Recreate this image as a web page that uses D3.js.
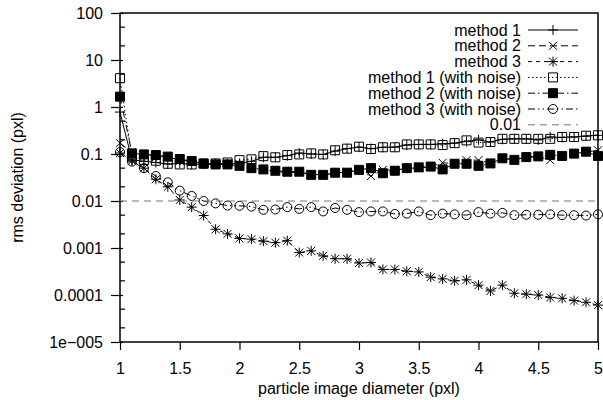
<!DOCTYPE html>
<html>
<head>
<meta charset="utf-8">
<script src="https://cdn.jsdelivr.net/npm/d3@7"></script>
<style>
  body { margin: 0; background: #fff; }
  svg text { font-family: "Liberation Sans", Arial, sans-serif; font-size: 16px; fill: #000; }
</style>
</head>
<body>
<div id="chart"></div>
<script>
// data
const diameters = [1.0, 1.1, 1.2, 1.3, 1.4, 1.5, 1.6, 1.7, 1.8, 1.9, 2.0, 2.1, 2.2, 2.3, 2.4, 2.5, 2.6, 2.7, 2.8, 2.9,
  3.0, 3.1, 3.2, 3.3, 3.4, 3.5, 3.6, 3.7, 3.8, 3.9, 4.0, 4.1, 4.2, 4.3, 4.4, 4.5, 4.6, 4.7, 4.8, 4.9, 5.0];

const method1 = [0.78, 0.075, 0.07, 0.066, 0.061, 0.063, 0.06, 0.061, 0.062, 0.062, 0.063, 0.07, 0.085, 0.085, 0.092,
  0.105, 0.1, 0.098, 0.115, 0.13, 0.14, 0.13, 0.139, 0.14, 0.155, 0.16, 0.16, 0.165, 0.17, 0.185,
  0.2, 0.18, 0.205, 0.21, 0.21, 0.2, 0.23, 0.225, 0.23, 0.24, 0.25];
const method2 = [0.17, 0.11, 0.095, 0.09, 0.085, 0.075, 0.07, 0.062, 0.06, 0.06, 0.055, 0.05, 0.047, 0.043, 0.04,
  0.041, 0.037, 0.036, 0.039, 0.042, 0.046, 0.034, 0.046, 0.045, 0.05, 0.05, 0.054, 0.065, 0.062, 0.074,
  0.074, 0.063, 0.08, 0.076, 0.085, 0.088, 0.074, 0.092, 0.1, 0.11, 0.12];
const method3 = [0.105, 0.072, 0.05, 0.029, 0.02, 0.0105, 0.0074, 0.0049, 0.0025, 0.002, 0.0016, 0.00154, 0.0014,
  0.0013, 0.00143, 0.0008, 0.00087, 0.00068, 0.00059, 0.00059, 0.00048, 0.00049, 0.00035, 0.00035, 0.00032,
  0.00031, 0.00024, 0.00022, 0.0002, 0.00021, 0.000162, 0.000122, 0.000162, 0.000109, 0.000104, 0.0001,
  0.000089, 0.000085, 0.000076, 0.00007, 0.000061];
const method1Noise = [4.1, 0.085, 0.075, 0.072, 0.062, 0.06, 0.06, 0.062, 0.063, 0.066, 0.074, 0.077, 0.09, 0.085,
  0.095, 0.098, 0.103, 0.098, 0.12, 0.13, 0.143, 0.128, 0.139, 0.139, 0.16, 0.16, 0.16, 0.155, 0.17, 0.195,
  0.175, 0.18, 0.21, 0.21, 0.21, 0.21, 0.21, 0.23, 0.23, 0.245, 0.25];
const method2Noise = [1.66, 0.103, 0.098, 0.095, 0.088, 0.078, 0.071, 0.063, 0.06, 0.06, 0.056, 0.05, 0.047, 0.044,
  0.042, 0.042, 0.036, 0.036, 0.04, 0.04, 0.046, 0.05, 0.039, 0.044, 0.05, 0.052, 0.054, 0.047, 0.062, 0.062,
  0.056, 0.063, 0.081, 0.075, 0.086, 0.089, 0.096, 0.091, 0.102, 0.112, 0.091];
const method3Noise = [0.11, 0.069, 0.05, 0.034, 0.025, 0.0166, 0.0128, 0.01, 0.0089, 0.008, 0.0079, 0.0076, 0.0065,
  0.0066, 0.0074, 0.0068, 0.0074, 0.006, 0.0071, 0.0065, 0.0058, 0.006, 0.006, 0.0053, 0.0054, 0.006, 0.005,
  0.0054, 0.0052, 0.005, 0.0058, 0.0054, 0.0056, 0.005, 0.0051, 0.0051, 0.0052, 0.005, 0.005, 0.0049, 0.0052];
const threshold = 0.01;

const seriesNames = ['method 1', 'method 2', 'method 3', 'method 1 (with noise)',
  'method 2 (with noise)', 'method 3 (with noise)'];
const seriesValues = [method1, method2, method3, method1Noise, method2Noise, method3Noise];

const xTicks = [1, 1.5, 2, 2.5, 3, 3.5, 4, 4.5, 5];
const yTicks = [100, 10, 1, 0.1, 0.01, 0.001, 0.0001, 0.00001];
const yTickLabels = ['100', '10', '1', '0.1', '0.01', '0.001', '0.0001', '1e\u2212005'];

// layout
const width = 603;
const height = 400;
const margin = { top: 13, right: 5, bottom: 58, left: 120 };

// line / marker style per series (gnuplot-ish)
const styles = [
  { dash: null, marker: 'plus' },
  { dash: '7,4', marker: 'cross' },
  { dash: '4,4', marker: 'star' },
  { dash: '1.5,2.5', marker: 'box' },
  { dash: '7,3,1.5,3', marker: 'fbox' },
  { dash: '7,3,1.5,3,1.5,3', marker: 'circle' },
];

const svg = d3.select('#chart')
  .append('svg')
  .attr('width', width)
  .attr('height', height);

const x = d3.scaleLinear()
  .domain([1, 5])
  .range([margin.left, width - margin.right]);
const y = d3.scaleLog()
  .domain([1e-5, 100])
  .range([height - margin.bottom, margin.top]);

// x ticks + labels
svg.append('g')
  .attr('transform', `translate(0,${height - margin.bottom})`)
  .call(d3.axisBottom(x).tickValues(xTicks).tickSize(8).tickPadding(13).tickFormat(d3.format('')))
  .call((g) => g.select('.domain').remove())
  .call((g) => g.selectAll('line').attr('stroke', '#000').attr('stroke-width', 1.2))
  .call((g) => g.selectAll('text').attr('font-size', 16).attr('font-family', 'Liberation Sans, Arial, sans-serif'));

// y major ticks
const yAxis = svg.append('g')
  .attr('transform', `translate(${margin.left},0)`)
  .call(d3.axisLeft(y).tickValues(yTicks).tickSize(9).tickPadding(8)
    .tickFormat((d, i) => yTickLabels[i]))
  .call((g) => g.select('.domain').remove())
  .call((g) => g.selectAll('line').attr('stroke', '#000').attr('stroke-width', 1.2).attr('x2', -9).attr('x1', 3))
  .call((g) => g.selectAll('text').attr('font-size', 16).attr('font-family', 'Liberation Sans, Arial, sans-serif'));

// y minor ticks at 2 and 5 of each decade
const minor = [];
yTicks.slice(1).forEach((d) => { minor.push(d * 2, d * 5); });
svg.append('g')
  .selectAll('line')
  .data(minor)
  .join('line')
  .attr('x1', margin.left)
  .attr('x2', margin.left + 5)
  .attr('y1', (d) => y(d))
  .attr('y2', (d) => y(d))
  .attr('stroke', '#000')
  .attr('stroke-width', 1.2);

// plot frame
svg.append('rect')
  .attr('x', margin.left)
  .attr('y', margin.top)
  .attr('width', width - margin.left - margin.right)
  .attr('height', height - margin.top - margin.bottom)
  .attr('fill', 'none')
  .attr('stroke', '#000')
  .attr('stroke-width', 1.5);

// markers
const markerPath = {
  plus: 'M-5,0H5M0,-5V5',
  cross: 'M-4,-4L4,4M-4,4L4,-4',
  star: 'M-5,0H5M0,-5V5M-4,-4L4,4M-4,4L4,-4',
  box: 'M-4.5,-4.5H4.5V4.5H-4.5Z',
  fbox: 'M-4.5,-4.5H4.5V4.5H-4.5Z',
  circle: 'M-4.5,0A4.5,4.5 0 1,0 4.5,0A4.5,4.5 0 1,0 -4.5,0Z',
};

const drawMarker = (sel, type) => {
  sel.append('path')
    .attr('d', markerPath[type])
    .attr('fill', type === 'fbox' ? '#000' : 'none')
    .attr('stroke', '#000')
    .attr('stroke-width', 1);
};

const line = d3.line()
  .x((d) => x(d[0]))
  .y((d) => y(d[1]));

const plot = svg.append('g');

seriesValues.forEach((vals, i) => {
  const pts = diameters.map((d, j) => [d, vals[j]]);
  const g = plot.append('g');
  g.append('path')
    .datum(pts)
    .attr('d', line)
    .attr('fill', 'none')
    .attr('stroke', '#000')
    .attr('stroke-width', 1)
    .attr('stroke-dasharray', styles[i].dash);
  g.selectAll('g.pt')
    .data(pts)
    .join('g')
    .attr('class', 'pt')
    .attr('transform', (d) => `translate(${x(d[0])},${y(d[1])})`)
    .each(function () { drawMarker(d3.select(this), styles[i].marker); });
});

// 0.01 reference line
plot.append('line')
  .attr('x1', x(1))
  .attr('x2', x(5))
  .attr('y1', y(threshold))
  .attr('y2', y(threshold))
  .attr('stroke', '#777')
  .attr('stroke-width', 1)
  .attr('stroke-dasharray', '7,5');

// legend
const legendNames = seriesNames.concat(['0.01']);
const legend = svg.append('g');
legendNames.forEach((name, i) => {
  const ly = 30 + i * 15.8;
  legend.append('text')
    .attr('x', 521)
    .attr('y', ly)
    .attr('dy', '0.35em')
    .attr('text-anchor', 'end')
    .text(name);
  legend.append('line')
    .attr('x1', 528)
    .attr('x2', 578)
    .attr('y1', ly)
    .attr('y2', ly)
    .attr('stroke', i < 6 ? '#000' : '#777')
    .attr('stroke-width', 1)
    .attr('stroke-dasharray', i < 6 ? styles[i].dash : '7,5');
  if (i < 6) {
    const m = legend.append('g').attr('transform', `translate(553,${ly})`);
    drawMarker(m, styles[i].marker);
  }
});

// axis titles
svg.append('text')
  .attr('x', (margin.left + width - margin.right) / 2)
  .attr('y', 394)
  .attr('text-anchor', 'middle')
  .text('particle image diameter (pxl)');

svg.append('text')
  .attr('transform', `translate(23,${(margin.top + height - margin.bottom) / 2}) rotate(-90)`)
  .attr('text-anchor', 'middle')
  .text('rms deviation (pxl)');
</script>
</body>
</html>
